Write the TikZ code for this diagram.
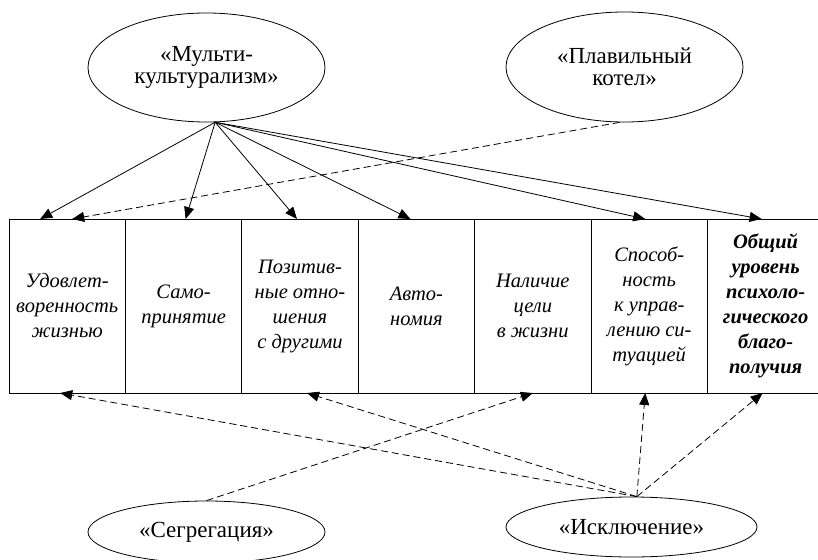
\documentclass[tikz,border=0pt]{standalone}
\usepackage{fontspec}
\setmainfont{Liberation Serif}
\usetikzlibrary{positioning,shapes.geometric,arrows.meta}

\begin{document}
\begin{tikzpicture}[x=1pt,y=-1pt,>={Triangle[length=12pt,width=10pt]},line width=0.8pt,node distance=0pt,
          idea/.style={draw,ellipse,inner sep=0pt,align=center,font=\fontsize{23}{22}\selectfont},
          cell/.style={draw,line width=1pt,outer sep=0pt,inner sep=0pt,minimum width=116.4pt,minimum height=174pt,align=center,font=\fontsize{20.5}{25}\selectfont\itshape},
          link/.style={->},
          hint/.style={->,dash pattern=on 7pt off 4pt}]
        \useasboundingbox (0,0) rectangle (818,559);
        % models of acculturation
        \node[idea,minimum width=237pt,minimum height=109pt] (mk) at (206.5,67.5) {«Мульти-\\культурализм»};
        \node[idea,minimum width=237pt,minimum height=110pt] (pk) at (624.5,67) {«Плавильный\\котел»};
        \node[idea,minimum width=237pt,minimum height=62pt] (sg) at (206.5,532) {«Сегрегация»};
        \node[idea,minimum width=251pt,minimum height=60pt] (ik) at (631.5,527) {«Исключение»};
        % scales of well-being
        \node[cell,anchor=north west] (b1) at (9,219) {Удовлет-\\воренность\\жизнью};
        \node[cell] (b2) [right=of b1] {Само-\\принятие};
        \node[cell] (b3) [right=of b2] {Позитив-\\ные отно-\\шения\\с другими};
        \node[cell] (b4) [right=of b3] {Авто-\\номия};
        \node[cell] (b5) [right=of b4] {Наличие\\цели\\в жизни};
        \node[cell] (b6) [right=of b5] {Способ-\\ность\\к управ-\\лению си-\\туацией};
        \node[cell] (b7) [right=of b6] {\bfseries Общий\\\bfseries уровень\\\bfseries психоло-\\\bfseries гического\\\bfseries благо-\\\bfseries получия};
        \draw[link] (mk.-81) -- ([xshift=-27pt]b1.north);
        \draw[link] (mk.-81) -- ([xshift=2pt]b2.north);
        \draw[link] (mk.-81) -- ([xshift=-3pt]b3.north);
        \draw[link] (mk.-81) -- ([xshift=-6pt]b4.north);
        \draw[link] (mk.-81) -- ([xshift=-4pt]b6.north);
        \draw[link] (mk.-81) -- ([xshift=-4pt]b7.north);
        \draw[hint] (pk.-95) -- ([xshift=5pt]b1.north);
        \draw[hint] (sg.north) -- (b5.south);
        \draw[hint] (ik.80) -- ([xshift=-7pt]b1.south);
        \draw[hint] (ik.80) -- ([xshift=7pt]b3.south);
        \draw[hint] (ik.80) -- ([xshift=-4pt]b6.south);
        \draw[hint] (ik.80) -- ([xshift=-3pt]b7.south);
      \end{tikzpicture}
\end{document}
